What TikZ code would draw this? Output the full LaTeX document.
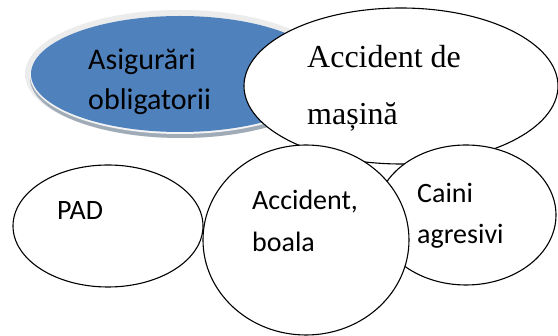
\documentclass[tikz,border=0pt]{standalone}
\usepackage{fontspec}
\setmainfont{Liberation Serif}
\newfontfamily\calib{Carlito}
\usetikzlibrary{shapes.geometric}
\definecolor{ablue}{HTML}{4F81BD}
\definecolor{aring}{HTML}{ECECEC}
\definecolor{ashadow}{HTML}{A0ABB8}
\definecolor{athin}{HTML}{F4F4F4}
\tikzset{
  bubble/.style={ellipse, draw=black, line width=1.1pt, fill=white, inner sep=0pt},
  blob/.style={ellipse, inner sep=0pt, draw=none},
  sanslbl/.style={anchor=base west, inner sep=0pt, font=\calib\fontsize{28}{34}\selectfont},
  bluelbl/.style={sanslbl, font=\calib\fontsize{30}{36}\selectfont},
  seriflbl/.style={anchor=base west, inner sep=0pt, font=\fontsize{32}{38}\selectfont},
}
\begin{document}
\begin{tikzpicture}[x=1pt,y=-1pt]
\useasboundingbox[fill=white] (0,0) rectangle (558,336);
% blue ellipse with glow and shadow
\node[blob, fill=aring, minimum width=310pt, minimum height=128pt] (glow) at (180,74) {};
\node[blob, fill=ashadow, minimum width=302pt, minimum height=120pt] (shad) at (181,78) {};
\node[blob, fill=athin, minimum width=300pt, minimum height=118pt] (thin) at (180,75) {};
\node[blob, fill=ablue, minimum width=298pt, minimum height=116pt] (blue) at (180,74) {};
% white bubbles
\node[bubble, minimum width=314pt, minimum height=156pt] (masina) at (401,86) {};
\node[bubble, minimum width=190pt, minimum height=122pt] (pad) at (108,226) {};
\node[bubble, minimum width=180pt, minimum height=140pt] (caini) at (466,215) {};
\node[bubble, minimum width=206pt, minimum height=190pt] (boala) at (306,240) {};
% texts
\node[bluelbl] (t1a) at (88,70) {Asigurări};
\node[bluelbl] (t1b) at (88,110) {obligatorii};
\node[seriflbl] (t2a) at (307,68) {Accident de};
\node[seriflbl] (t2b) at (307,125) {mașină};
\node[sanslbl] (t3) at (57,220) {PAD};
\node[sanslbl] (t4a) at (252,210) {Accident,};
\node[sanslbl] (t4b) at (252,252) {boala};
\node[sanslbl] (t5a) at (417,203) {Caini};
\node[sanslbl] (t5b) at (417,244) {agresivi};
\end{tikzpicture}
\end{document}
